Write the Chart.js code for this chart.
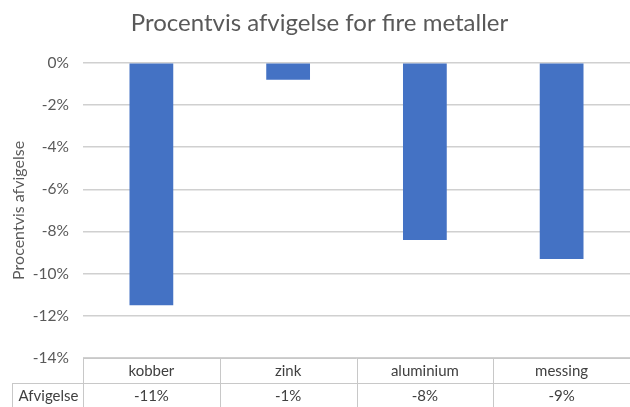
<!DOCTYPE html>
<html>
<head>
<meta charset="utf-8">
<script src="https://cdn.jsdelivr.net/npm/chart.js@4"></script>
<style>
  html, body { margin: 0; padding: 0; background: #fff; }
  #wrap { width: 630px; height: 407px; }
</style>
</head>
<body>
<div id="wrap"><canvas id="chart" width="630" height="407"></canvas></div>
<script>
const kategorier = ["kobber", "zink", "aluminium", "messing"];
const afvigelse = [-0.115, -0.008, -0.084, -0.093];
const serieNavn = "Afvigelse";
const titel = "Procentvis afvigelse for fire metaller";
const aksetitel = "Procentvis afvigelse";

const FONT = "Lato, 'Open Sans', sans-serif";
const tekstFarve = "#595959";
const linjeFarve = "#d0d0d0";

const pct = v => Math.round(v * 100) + "%";

// tegner datatabellen under plotomraadet
const datatabel = {
  id: "datatabel",
  afterDraw(chart) {
    const ctx = chart.ctx;
    const x = chart.scales.x;
    const area = chart.chartArea;
    const top = area.bottom;
    const mid = top + 25;
    const bund = chart.height;
    const bredde = (area.right - area.left) / kategorier.length;

    ctx.save();
    ctx.strokeStyle = "#c8c8c8";
    ctx.lineWidth = 1;
    ctx.beginPath();
    ctx.moveTo(area.left, top + 0.5);
    ctx.lineTo(area.right, top + 0.5);
    ctx.moveTo(12, mid + 0.5);
    ctx.lineTo(area.right, mid + 0.5);
    ctx.moveTo(12.5, mid);
    ctx.lineTo(12.5, bund);
    for (let i = 0; i < kategorier.length; i++) {
      const xx = Math.round(area.left + i * bredde) + 0.5;
      ctx.moveTo(xx, top);
      ctx.lineTo(xx, bund);
    }
    ctx.stroke();

    ctx.fillStyle = "#404040";
    ctx.font = "15px " + FONT;
    ctx.textAlign = "center";
    ctx.textBaseline = "middle";
    kategorier.forEach((k, i) => {
      const cx = x.getPixelForValue(i);
      ctx.fillText(k, cx, (top + mid) / 2 + 1);
      ctx.fillText(pct(afvigelse[i]), cx, (mid + bund) / 2 + 1);
    });
    ctx.fillText(serieNavn, (12 + area.left) / 2 + 1, (mid + bund) / 2 + 1);
    ctx.restore();
  }
};

new Chart(document.getElementById("chart"), {
  type: "bar",
  data: {
    labels: kategorier,
    datasets: [{
      label: serieNavn,
      data: afvigelse,
      backgroundColor: "#4472C4",
      borderWidth: 0,
      categoryPercentage: 1,
      barPercentage: 0.32
    }]
  },
  options: {
    responsive: false,
    animation: false,
    layout: { padding: { left: 9, right: 0, top: 0, bottom: 49 } },
    plugins: {
      legend: { display: false },
      tooltip: { enabled: false },
      title: {
        display: true,
        text: titel,
        color: tekstFarve,
        font: { family: FONT, size: 24, weight: "normal" },
        padding: { top: 9, bottom: 25 }
      }
    },
    scales: {
      x: {
        display: false
      },
      y: {
        min: -0.14,
        max: 0,
        ticks: {
          stepSize: 0.02,
          callback: v => pct(v),
          color: tekstFarve,
          font: { family: FONT, size: 15.5 },
          padding: 14
        },
        grid: { color: linjeFarve, lineWidth: 1.5, drawTicks: false },
        border: { display: false },
        title: {
          display: true,
          text: aksetitel,
          color: tekstFarve,
          font: { family: FONT, size: 16 },
          padding: { top: 0, bottom: 6 }
        },
        afterFit(scale) { scale.width = 74; }
      }
    }
  },
  plugins: [datatabel]
});
</script>
</body>
</html>
